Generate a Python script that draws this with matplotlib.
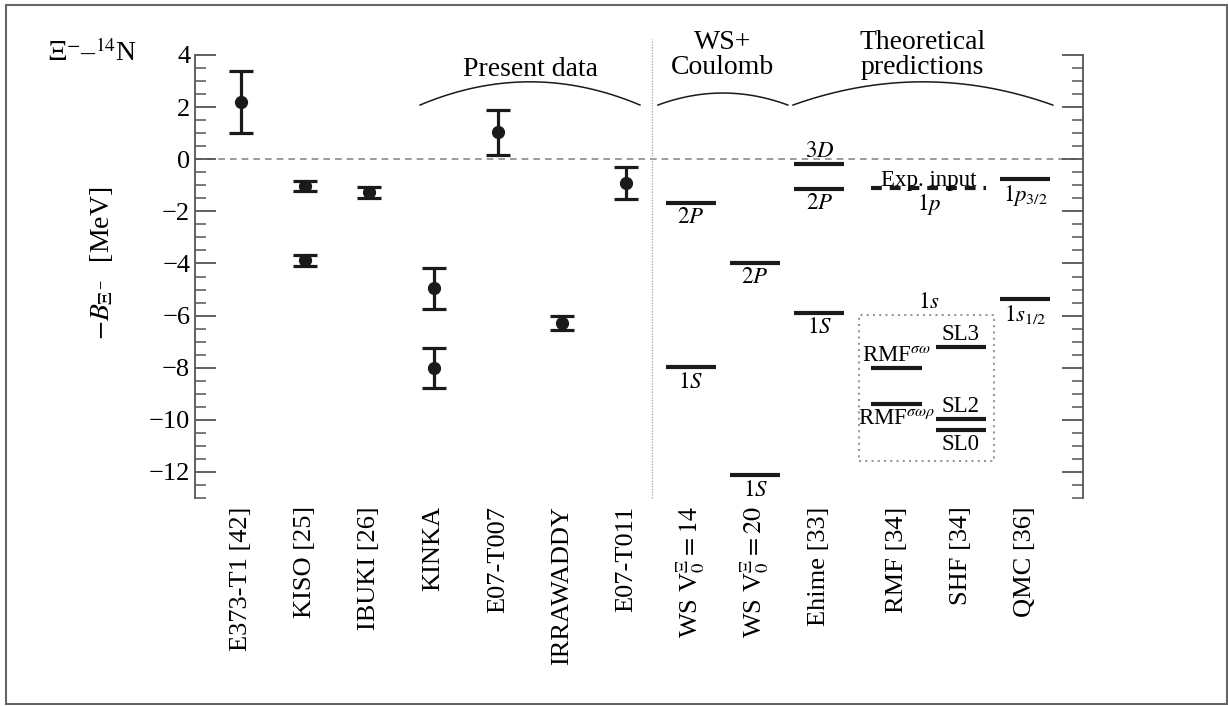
import matplotlib
matplotlib.use("Agg")
import matplotlib.pyplot as plt
import numpy as np
from matplotlib.patches import Rectangle
from matplotlib.ticker import MultipleLocator

plt.rcParams["font.family"] = ["Liberation Serif", "DejaVu Serif"]
plt.rcParams["mathtext.fontset"] = "stix"

# --- data ---
categories = [
    "E373-T1 [42]", "KISO [25]", "IBUKI [26]", "KINKA", "E07-T007",
    "IRRAWADDY", "E07-T011", r"WS V$_0^{\Xi}=14$", r"WS V$_0^{\Xi}=20$",
    "Ehime [33]", "RMF [34]", "SHF [34]", "QMC [36]",
]
cat_pos = [0, 1, 2, 3, 4, 5, 6, 7, 8, 9, 10.2, 11.2, 12.2]

# measured -B values with errors
exp_cat = ["E373-T1 [42]", "KISO [25]", "KISO [25]", "IBUKI [26]", "KINKA",
           "KINKA", "E07-T007", "IRRAWADDY", "E07-T011"]
exp_val = [2.2, -1.03, -3.87, -1.27, -4.96, -8.00, 1.03, -6.27, -0.90]
exp_err = [1.2, 0.18, 0.21, 0.21, 0.77, 0.77, 0.85, 0.27, 0.62]

# calculated levels
level_cat = [r"WS V$_0^{\Xi}=14$", r"WS V$_0^{\Xi}=14$",
             r"WS V$_0^{\Xi}=20$", r"WS V$_0^{\Xi}=20$",
             "Ehime [33]", "Ehime [33]", "Ehime [33]",
             "QMC [36]", "QMC [36]",
             "RMF [34]", "RMF [34]",
             "SHF [34]", "SHF [34]", "SHF [34]"]
level_val = [-1.67, -7.99, -3.99, -12.13, -0.17, -1.13, -5.91,
             -0.77, -5.36, -8.01, -9.40, -7.19, -9.97, -10.38]
level_lbl = ["$2P$", "$1S$", "$2P$", "$1S$", "$3D$", "$2P$", "$1S$",
             "$1p_{3/2}$", "$1s_{1/2}$", r"RMF$^{\sigma\omega}$",
             r"RMF$^{\sigma\omega\rho}$", "SL3", "SL2", "SL0"]
level_side = ["below", "below", "below", "below", "above", "below", "below",
              "below", "below", "above", "below", "above", "above", "below"]

exp_input_val = -1.09  # 1p experimental input for RMF/SHF

groups = ["Present data", "WS+\nCoulomb", "Theoretical\npredictions"]
group_span = [(2.79, 6.21), (6.49, 8.51), (8.59, 12.63)]
group_rise = [0.89, 0.46, 0.89]
group_text_x = [4.5, 7.5, 10.6]
group_text_y = [3.45, 4.0, 4.0]

pos = dict(zip(categories, cat_pos))
dark = "#1a1a1a"

fig = plt.figure(figsize=(12.28, 7.06), dpi=100)
ax = fig.add_axes([0.1588, 0.2946, 0.7231, 0.6275])
ax.set_xlim(-0.71, 13.1)
ax.set_ylim(-13, 4)

# frame around the whole figure
fig.patches.append(Rectangle((0.005, 0.003), 0.994, 0.99, transform=fig.transFigure,
                             fill=False, edgecolor="#666666", lw=1.5))

for s in ["top", "bottom"]:
    ax.spines[s].set_visible(False)
for s in ["left", "right"]:
    ax.spines[s].set_color("#555555")
    ax.spines[s].set_linewidth(1.3)

ax.yaxis.set_major_locator(MultipleLocator(2))
ax.yaxis.set_minor_locator(MultipleLocator(0.5))
ax.tick_params(axis="y", which="both", direction="in", left=True, right=True,
               color="#555555", labelsize=19)
ax.tick_params(axis="y", which="major", length=15, width=1.3)
ax.tick_params(axis="y", which="minor", length=8, width=1.1)
ax.set_yticks(np.arange(-12, 5, 2))
ax.set_yticklabels([str(int(v)).replace("-", "\u2212") for v in np.arange(-12, 5, 2)])

ax.set_xticks(cat_pos)
ax.set_xticklabels(categories, rotation=90, fontsize=19)
ax.tick_params(axis="x", length=0, pad=6)

ax.set_ylabel(r"$-B_{\Xi^-}$  [MeV]", fontsize=20)
ax.yaxis.set_label_coords(-0.09, 0.53)

fig.text(0.039, 0.925, "$\\Xi^{-}$\u2013$^{14}$N", fontsize=20,
         ha="left", va="center")

# zero line and separator
ax.axhline(0, ls=(0, (4, 3)), color="#8a8a8a", lw=1.2, zorder=1)
separator_x = 6.4
ax.plot([separator_x, separator_x], [-13, 4.6], ls=(0, (1, 1)), color="#b0b0b0",
        lw=1.0, clip_on=False)

# experimental points
ax.errorbar([pos[c] for c in exp_cat], exp_val, yerr=exp_err, fmt="o",
            color=dark, ms=8.5, elinewidth=2.3, capsize=8.5, capthick=2.3, zorder=3)

# calculated levels
hw = 0.39
for c, v, lab, side in zip(level_cat, level_val, level_lbl, level_side):
    x = pos[c]
    ax.hlines(v, x - hw, x + hw, color=dark, lw=3)
    if side == "below":
        ax.annotate(lab, (x, v), xytext=(0, -3), textcoords="offset points",
                    ha="center", va="top", fontsize=16.5)
    else:
        ax.annotate(lab, (x, v), xytext=(0, 1.5), textcoords="offset points",
                    ha="center", va="bottom", fontsize=16.5)

# experimental input (1p) for RMF / SHF
x0, x1 = pos["RMF [34]"], pos["SHF [34]"]
xm = (x0 + x1) / 2
ax.hlines(exp_input_val, x0 - hw, x1 + hw, color=dark, lw=3, ls=(0, (2.6, 1.9)))
ax.annotate("Exp. input", (xm, exp_input_val), xytext=(0, -2.5),
            textcoords="offset points", ha="center", va="bottom", fontsize=16.5)
ax.annotate("$1p$", (xm, exp_input_val), xytext=(0, -3),
            textcoords="offset points", ha="center", va="top", fontsize=16.5)

# dotted box around the 1s levels of RMF / SHF
box_vals = level_val[9:]
y_lo, y_hi = min(box_vals) - 1.2, max(box_vals) + 1.2
ax.add_patch(Rectangle((x0 - 0.58, y_lo), (x1 + 0.51) - (x0 - 0.58), y_hi - y_lo,
                       fill=False, edgecolor="#999999", lw=1.5, ls=(0, (1, 2))))
ax.annotate("$1s$", (xm, y_hi), xytext=(0, 2), textcoords="offset points",
            ha="center", va="bottom", fontsize=16.5)

# group brackets
for name, (a, b), rise, tx, ty in zip(groups, group_span, group_rise,
                                      group_text_x, group_text_y):
    t = np.linspace(-1, 1, 80)
    xs = (a + b) / 2 + t * (b - a) / 2
    ys = 2.08 + rise * (1 - t ** 2)
    ax.plot(xs, ys, color=dark, lw=1.1, clip_on=False)
    ax.text(tx, ty, name, ha="center", va="center", fontsize=20,
            linespacing=1.05)

fig.savefig("out.png", dpi=100)
